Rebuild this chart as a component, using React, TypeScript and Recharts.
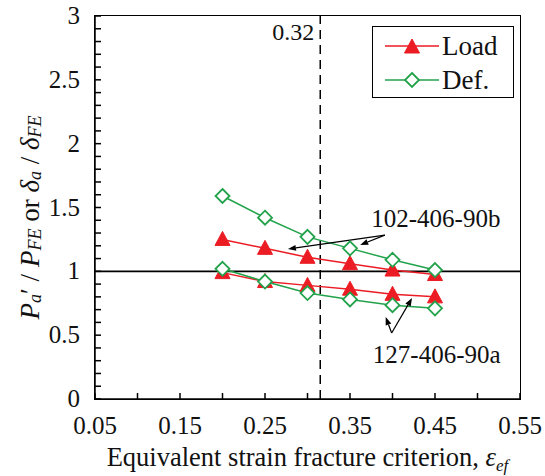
import React from 'react';
import { LineChart, Line, XAxis, YAxis, ReferenceLine, ReferenceDot } from 'recharts';

// strain criterion values used in the FE runs
const STRAIN = [0.2, 0.25, 0.3, 0.35, 0.4, 0.45];

// ratios
const LOAD_102 = [1.25, 1.18, 1.11, 1.06, 1.01, 0.975];
const DEF_102 = [1.59, 1.42, 1.27, 1.18, 1.09, 1.01];
const LOAD_127 = [0.99, 0.92, 0.89, 0.86, 0.82, 0.8];
const DEF_127 = [1.02, 0.92, 0.83, 0.78, 0.735, 0.71];

const X_TICKS = [0.05, 0.1, 0.15, 0.2, 0.25, 0.3, 0.35, 0.4, 0.45, 0.5, 0.55];
const X_LABELS = [0.05, 0.15, 0.25, 0.35, 0.45, 0.55];
const Y_LABELS = [0, 0.5, 1, 1.5, 2, 2.5, 3];
const Y_TICKS = Array.from({ length: 31 }, (_, i) => i / 10);

const CRITICAL_STRAIN = 0.315;

const RED = '#ec1c24';
const GREEN = '#22a24b';
const FONT = "'Liberation Serif', 'Times New Roman', serif";

const W = 545;
const H = 476;
const MARGIN = { top: 16, right: 25, bottom: 27, left: 8 };
const Y_AXIS_W = 87;
const X_AXIS_H = 50;

const data = STRAIN.map((x, i) => ({
    x,
    load102: LOAD_102[i],
    def102: DEF_102[i],
    load127: LOAD_127[i],
    def127: DEF_127[i],
}));

const Triangle = ({ cx, cy }: any) => (
    <polygon points={`${cx},${cy - 8} ${cx - 7.5},${cy + 6} ${cx + 7.5},${cy + 6}`} fill={RED} stroke={RED} />
);

const Diamond = ({ cx, cy }: any) => (
    <polygon points={`${cx},${cy - 7} ${cx + 7},${cy} ${cx},${cy + 7} ${cx - 7},${cy}`} fill="#fff" stroke={GREEN} strokeWidth={1.8} />
);

const XTick = ({ x, y, payload }: any) => {
    const labeled = X_LABELS.some((v) => Math.abs(v - payload.value) < 1e-6);
    return (
        <g>
            <line x1={x} x2={x} y1={y} y2={y - 6} stroke="#000" strokeWidth={1.5} />
            {labeled && (
                <text x={x} y={y + 35} textAnchor="middle" style={{ fontFamily: FONT, fontSize: 25 }} fill="#111">
                    {payload.value.toFixed(2)}
                </text>
            )}
        </g>
    );
};

const YTick = ({ x, y, payload }: any) => {
    const labeled = Y_LABELS.some((v) => Math.abs(v - payload.value) < 1e-6);
    return (
        <g>
            <line x1={x} x2={x + 6} y1={y} y2={y} stroke="#000" strokeWidth={1.5} />
            {labeled && (
                <text x={x - 15} y={y + 8} textAnchor="end" style={{ fontFamily: FONT, fontSize: 25 }} fill="#111">
                    {payload.value}
                </text>
            )}
        </g>
    );
};

const Arrow = ({ x1, y1, x2, y2 }: any) => {
    const a = Math.atan2(y2 - y1, x2 - x1);
    const L = 8, HW = 3;
    const bx = x2 - L * Math.cos(a), by = y2 - L * Math.sin(a);
    const px = -Math.sin(a) * HW, py = Math.cos(a) * HW;
    return (
        <g>
            <line x1={x1} y1={y1} x2={bx} y2={by} stroke="#000" strokeWidth={1.2} />
            <polygon points={`${x2},${y2} ${bx + px},${by + py} ${bx - px},${by - py}`} fill="#000" />
        </g>
    );
};

const annotationText = (text: string) => ({ cx, cy }: any) => (
    <text x={cx} y={cy} textAnchor="middle" dominantBaseline="central" style={{ fontFamily: FONT, fontSize: 25 }} fill="#111">
        {text}
    </text>
);

const SERIES = [
    { name: 'Load', color: RED, marker: 'tri' },
    { name: 'Def.', color: GREEN, marker: 'dia' },
];

const frame = { stroke: '#000', strokeWidth: 1.5 };

const XTitle = ({ viewBox }: any) => (
    <text
        x={viewBox.x + viewBox.width / 2}
        y={viewBox.y + 67}
        textAnchor="middle"
        style={{ fontFamily: FONT, fontSize: 26.5 }}
        fill="#111"
    >
        Equivalent strain fracture criterion,{' '}
        <tspan fontStyle="italic">ε</tspan>
        <tspan fontStyle="italic" fontSize={17} dy={5}>ef</tspan>
    </text>
);

const YTitle = ({ viewBox }: any) => {
    const cx = viewBox.x + 22;
    const cy = viewBox.y + viewBox.height / 2 + 10;
    return (
        <text
            x={cx}
            y={cy}
            transform={`rotate(-90, ${cx}, ${cy})`}
            textAnchor="middle"
            dominantBaseline="central"
            style={{ fontFamily: FONT, fontSize: 27 }}
            fill="#111"
        >
            <tspan fontStyle="italic">P</tspan>
            <tspan fontStyle="italic" fontSize={18} dy={5}>a</tspan>
            <tspan dy={-5}>′ / </tspan>
            <tspan fontStyle="italic">P</tspan>
            <tspan fontStyle="italic" fontSize={18} dy={5}>FE</tspan>
            <tspan dy={-5}> or </tspan>
            <tspan fontStyle="italic">δ</tspan>
            <tspan fontStyle="italic" fontSize={18} dy={5}>a</tspan>
            <tspan dy={-5}> / </tspan>
            <tspan fontStyle="italic">δ</tspan>
            <tspan fontStyle="italic" fontSize={18} dy={5}>FE</tspan>
        </text>
    );
};

// plot box edges, from the chart margins
const plotLeft = MARGIN.left + Y_AXIS_W;
const plotTop = MARGIN.top;
const plotWidth = W - MARGIN.right - plotLeft;
const plotHeight = H - MARGIN.bottom - X_AXIS_H - plotTop;

export default function App() {
    return (
        <div style={{ position: 'fixed', left: 0, top: 0, width: W, height: H, fontFamily: FONT, background: '#fff' }}>
            <LineChart width={W} height={H} data={data} margin={MARGIN}>
                <XAxis
                    dataKey="x"
                    type="number"
                    domain={[0.05, 0.55]}
                    ticks={X_TICKS}
                    interval={0}
                    tickSize={0}
                    tickMargin={0}
                    tickLine={false}
                    tick={<XTick />}
                    axisLine={frame}
                    height={X_AXIS_H}
                    label={{ content: XTitle }}
                />
                <YAxis
                    type="number"
                    domain={[0, 3]}
                    ticks={Y_TICKS}
                    interval={0}
                    tickSize={0}
                    tickMargin={0}
                    tickLine={false}
                    tick={<YTick />}
                    axisLine={frame}
                    width={Y_AXIS_W}
                    label={{ content: YTitle }}
                />

                <ReferenceLine y={1} stroke="#000" strokeWidth={1.8} />
                <ReferenceLine
                    x={CRITICAL_STRAIN}
                    stroke="#000"
                    strokeWidth={1.5}
                    strokeDasharray="9 6"
                    label={{
                        content: ({ viewBox }: any) => (
                            <text x={viewBox.x - 6} y={viewBox.y + 24} textAnchor="end" style={{ fontFamily: FONT, fontSize: 24 }} fill="#111">
                                0.32
                            </text>
                        ),
                    }}
                />

                <Line dataKey="load102" stroke={RED} strokeWidth={1.5} dot={<Triangle />} isAnimationActive={false} />
                <Line dataKey="load127" stroke={RED} strokeWidth={1.5} dot={<Triangle />} isAnimationActive={false} />
                <Line dataKey="def102" stroke={GREEN} strokeWidth={1.5} dot={<Diamond />} isAnimationActive={false} />
                <Line dataKey="def127" stroke={GREEN} strokeWidth={1.5} dot={<Diamond />} isAnimationActive={false} />

                {/* arrows pointing at the two specimen groups */}
                <ReferenceLine segment={[{ x: 0.391, y: 1.284 }, { x: 0.277, y: 1.175 }]} shape={<Arrow />} />
                <ReferenceLine segment={[{ x: 0.391, y: 1.284 }, { x: 0.362, y: 1.206 }]} shape={<Arrow />} />
                <ReferenceLine segment={[{ x: 0.399, y: 0.517 }, { x: 0.392, y: 0.642 }]} shape={<Arrow />} />
                <ReferenceLine segment={[{ x: 0.399, y: 0.517 }, { x: 0.423, y: 0.791 }]} shape={<Arrow />} />
                <ReferenceDot x={0.451} y={1.41} r={0} shape={annotationText('102-406-90b')} />
                <ReferenceDot x={0.452} y={0.35} r={0} shape={annotationText('127-406-90a')} />
            </LineChart>

            {/* top and right edges of the box */}
            <div
                style={{
                    position: 'absolute',
                    left: plotLeft - 0.75,
                    top: plotTop - 0.75,
                    width: plotWidth + 1.5,
                    height: plotHeight + 1.5,
                    border: '1.5px solid #000',
                    boxSizing: 'border-box',
                    pointerEvents: 'none',
                }}
            />

            <div
                style={{
                    position: 'absolute',
                    left: 372,
                    top: 26,
                    width: 142,
                    height: 72,
                    border: '1.5px solid #000',
                    background: '#fff',
                    fontSize: 27,
                    color: '#111',
                    boxSizing: 'border-box',
                    paddingTop: 2,
                }}
            >
                {SERIES.map((s) => (
                    <div key={s.name} style={{ display: 'flex', alignItems: 'center', height: 34, paddingLeft: 12 }}>
                        <svg width={54} height={20}>
                            <line x1={0} x2={54} y1={10} y2={10} stroke={s.color} strokeWidth={1.5} />
                            {s.marker === 'tri' ? <Triangle cx={27} cy={11} /> : <Diamond cx={27} cy={10} />}
                        </svg>
                        <span style={{ marginLeft: 3 }}>{s.name}</span>
                    </div>
                ))}
            </div>
        </div>
    );
}
